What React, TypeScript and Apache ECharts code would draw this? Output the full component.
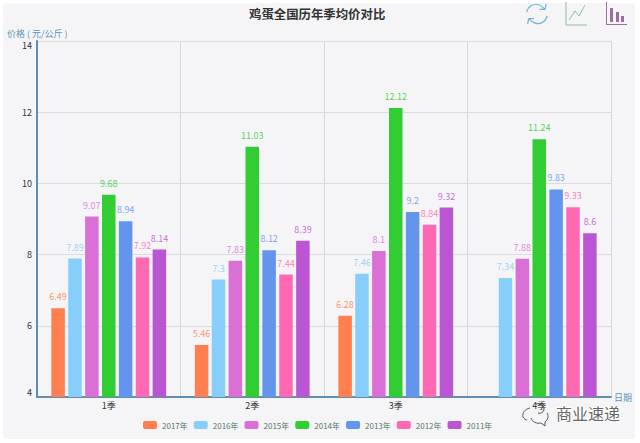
import React, { useEffect, useRef } from "react";
import * as echarts from "echarts";

const categories = ["1季", "2季", "3季", "4季"];
const yearNames = ["2017年", "2016年", "2015年", "2014年", "2013年", "2012年", "2011年"];
const colors = ["#ff7f50", "#87cefa", "#da70d6", "#32cd32", "#6495ed", "#ff69b4", "#ba55d3"];
const v2017 = [6.49, 5.46, 6.28, null];
const v2016 = [7.89, 7.3, 7.46, 7.34];
const v2015 = [9.07, 7.83, 8.1, 7.88];
const v2014 = [9.68, 11.03, 12.12, 11.24];
const v2013 = [8.94, 8.12, 9.2, 9.83];
const v2012 = [7.92, 7.44, 8.84, 9.33];
const v2011 = [8.14, 8.39, 9.32, 8.6];
const allValues = [v2017, v2016, v2015, v2014, v2013, v2012, v2011];

const font = "'Microsoft YaHei', 'Noto Sans CJK SC', 'Liberation Sans', sans-serif";

echarts.graphic.registerShape(
  "refreshIcon",
  echarts.graphic.extendPath(
    "M3 11 C4 5 10 1 16 3 C19 4 21 6 23 8 M23 8 L24 2 M23 8 L17 8 M25 15 C24 21 18 25 12 23 C9 22 7 20 5 18 M5 18 L4 24 M5 18 L11 18",
    {}
  )
);
echarts.graphic.registerShape(
  "lineIcon",
  echarts.graphic.extendPath("M1 0 L1 23 L22 23 M4 18 L10 9 L14 14 L20 3", {})
);
echarts.graphic.registerShape(
  "barIcon",
  echarts.graphic.extendPath(
    "M0 0 L0 23 L21 23 L21 22 L1 22 L1 0 Z M4 6 L7 6 L7 20 L4 20 Z M10 10 L13 10 L13 20 L10 20 Z M15 14 L18 14 L18 20 L15 20 Z",
    {}
  )
);
echarts.graphic.registerShape(
  "bubbleIcon",
  echarts.graphic.extendPath(
    "M8 6 C3 7 0 11 1 15 C2 17 4 18 5 18 M9 16 C10 20 15 22 19 21 L23 24 L23 20 C26 18 27 14 25 11 M14 2 C18 1 22 3 22 7 C22 10 19 12 16 11",
    {}
  )
);

export default function App() {
  const ref = useRef<HTMLDivElement>(null);
  useEffect(() => {
    document.body.style.margin = "0";
    const chart = echarts.init(ref.current!, null, { renderer: "svg" });
    chart.setOption({
      animation: false,
      backgroundColor: "#ffffff",
      textStyle: { fontFamily: font },
      title: {
        text: "鸡蛋全国历年季均价对比",
        left: 244,
        top: 3,
        textStyle: { fontSize: 12.4, fontWeight: "bold", color: "#333333", fontFamily: font },
      },
      legend: {
        bottom: 9,
        left: 138,
        itemWidth: 14,
        itemHeight: 8,
        itemGap: 6,
        textStyle: { fontSize: 8, color: "#557766", fontFamily: font },
        data: yearNames,
      },
      grid: { left: 37, right: 29, top: 41, bottom: 46 },
      xAxis: {
        type: "category",
        data: categories,
        name: "日期",
        nameGap: 3,
        nameTextStyle: { color: "#5b93b5", fontSize: 9 },
        axisLine: { lineStyle: { color: "#5f8fb0", width: 2 } },
        axisTick: { alignWithLabel: false, length: 3, lineStyle: { color: "#444444" } },
        axisLabel: { color: "#333333", fontSize: 9, margin: 4 },
        splitLine: { show: true, lineStyle: { color: "#d4d6da", width: 1 } },
      },
      yAxis: {
        type: "value",
        min: 4,
        max: 14,
        interval: 2,
        name: "价格 ( 元/公斤 )",
        nameLocation: "end",
        nameGap: 3,
        nameTextStyle: { color: "#5b93b5", fontSize: 9, align: "left", padding: [0, 0, 0, -30] },
        axisLine: { show: true, lineStyle: { color: "#5f8fb0", width: 2 } },
        axisTick: { show: false },
        axisLabel: {
          color: "#333333",
          fontSize: 9,
          margin: 5,
          verticalAlignMinLabel: "bottom",
          verticalAlignMaxLabel: "top",
        },
        splitLine: { show: true, lineStyle: { color: "#d9dbde", width: 1 } },
      },
      series: yearNames.map((name, i) => ({
        name,
        type: "bar",
        data: allValues[i],
        barGap: "25%",
        barCategoryGap: "20%",
        itemStyle: { color: colors[i] },
        label: {
          show: true,
          position: "top",
          distance: 7,
          fontSize: 9,
          color: colors[i],
          opacity: 0.85,
        },
      })),
      graphic: [
        {
          type: "rect",
          z: -1,
          silent: true,
          shape: { x: 3, y: 3, width: 632, height: 436, r: 4 },
          style: { fill: "#f5f5f7" },
        },
        {
          type: "refreshIcon",
          x: 524,
          y: 2,
          scaleX: 0.92,
          scaleY: 0.92,
          style: { fill: "none", stroke: "#6fb3d6", lineWidth: 1.3 },
        },
        {
          type: "lineIcon",
          x: 565,
          y: 2,
          style: { fill: "none", stroke: "#8fbf9a", lineWidth: 1 },
        },
        {
          type: "barIcon",
          x: 606,
          y: 2,
          style: { fill: "#9a6f9e" },
        },
        {
          type: "bubbleIcon",
          x: 522,
          y: 402,
          style: { fill: "none", stroke: "#555555", lineWidth: 1 },
        },
        {
          type: "text",
          x: 556,
          y: 405,
          style: {
            text: "商业速递",
            fontSize: 16,
            fontFamily: font,
            fill: "#666666",
            stroke: "#ffffff",
            lineWidth: 2,
          },
        },
      ],
    });
    return () => chart.dispose();
  }, []);
  return (
    <div
      ref={ref}
      style={{ position: "absolute", left: 0, top: 0, width: 640, height: 443 }}
    />
  );
}
